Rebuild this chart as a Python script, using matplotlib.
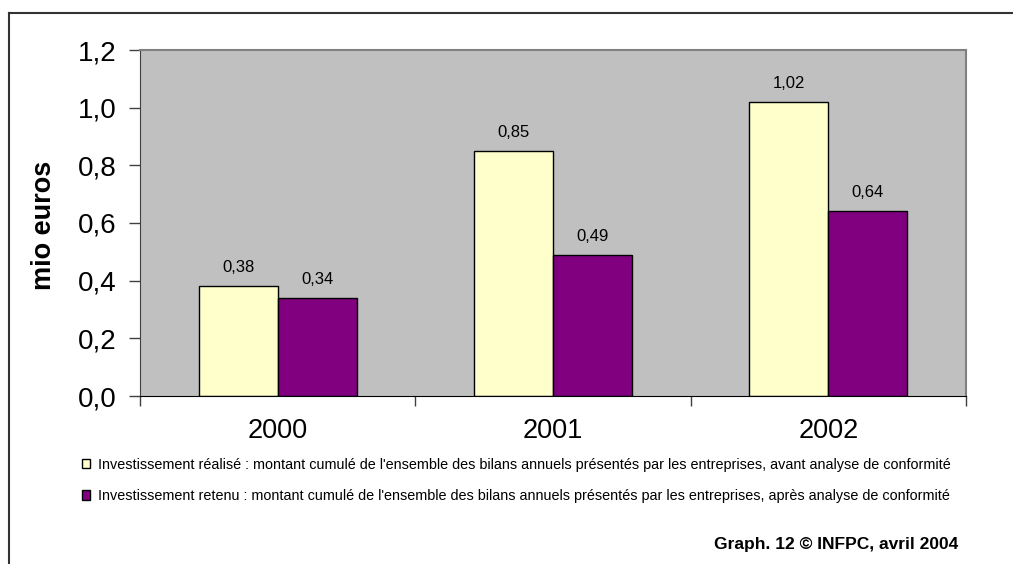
import matplotlib.pyplot as plt
import numpy as np
from matplotlib.lines import Line2D

plt.rcParams['font.family'] = ['Liberation Sans', 'DejaVu Sans']

# Données : investissement cumulé (mio euros)
annees = ["2000", "2001", "2002"]
realise = [0.38, 0.85, 1.02]
retenu = [0.34, 0.49, 0.64]
series_labels = [
    "Investissement réalisé : montant cumulé de l'ensemble des bilans annuels présentés par les entreprises, avant analyse de conformité",
    "Investissement retenu : montant cumulé de l'ensemble des bilans annuels présentés par les entreprises, après analyse de conformité",
]
y_ticks = [0.0, 0.2, 0.4, 0.6, 0.8, 1.0, 1.2]
source = "Graph. 12 © INFPC, avril 2004"


def fmt(v, nd):
    return f"{v:.{nd}f}".replace(".", ",")


W, H = 1013, 564
fig = plt.figure(figsize=(W / 100, H / 100), dpi=100)
ax = fig.add_axes([140 / W, 1 - 396 / H, (966 - 140) / W, (396 - 50) / H])
ax.set_facecolor("#C0C0C0")

x = np.arange(len(annees)) + 0.5
bw = 0.287
b1 = ax.bar(x - bw / 2, realise, bw, color="#FFFFCC", edgecolor="black", linewidth=1.0, label=series_labels[0])
b2 = ax.bar(x + bw / 2, retenu, bw, color="#800080", edgecolor="black", linewidth=1.0, label=series_labels[1])

for bars, vals in ((b1, realise), (b2, retenu)):
    for r, v in zip(bars, vals):
        ax.annotate(fmt(v, 2), (r.get_x() + r.get_width() / 2, v), xytext=(0, 8),
                    textcoords="offset points", ha="center", va="bottom", fontsize=12)

ax.set_xlim(0, len(annees))
ax.set_ylim(0, 1.2)
ax.set_yticks(y_ticks)
ax.set_yticklabels([fmt(t, 1) for t in y_ticks], fontsize=20)
ax.set_xticks(np.arange(len(annees) + 1))
ax.set_xticklabels([])
ax.set_xticks(x, minor=True)
ax.set_xticklabels(annees, minor=True, fontsize=19.5)
ax.tick_params(axis="x", which="major", direction="out", length=7, width=1, color="#404040")
ax.tick_params(axis="x", which="minor", length=0, pad=16)
ax.tick_params(axis="y", direction="out", length=8, width=1, color="#404040", pad=9)

for side in ("top", "right"):
    ax.spines[side].set_color("#808080")
    ax.spines[side].set_linewidth(1.5)
ax.spines["left"].set_color("#404040")
ax.spines["bottom"].set_color("black")

fig.text(44 / W, 1 - 225 / H, "mio euros", rotation=90, ha="center", va="center",
         fontsize=19.5, fontweight="bold")

fig.legend(handles=[b1, b2], labels=series_labels, loc="upper left",
           bbox_to_anchor=(76 / W, 1 - 452 / H), frameon=False, fontsize=10.4,
           handlelength=0.6, handleheight=0.6, handletextpad=0.5, labelspacing=1.2,
           borderaxespad=0)

fig.text(958 / W, 1 - 544 / H, source, ha="right", va="center", fontsize=12.5, fontweight="bold")

# cadre partiel autour du graphique
fig.add_artist(Line2D([9 / W, 9 / W], [0, 1 - 13 / H], transform=fig.transFigure, color="#333333", lw=1.5))
fig.add_artist(Line2D([9 / W, 1], [1 - 13 / H, 1 - 13 / H], transform=fig.transFigure, color="#333333", lw=1.5))

fig.savefig("out.png", dpi=100)
